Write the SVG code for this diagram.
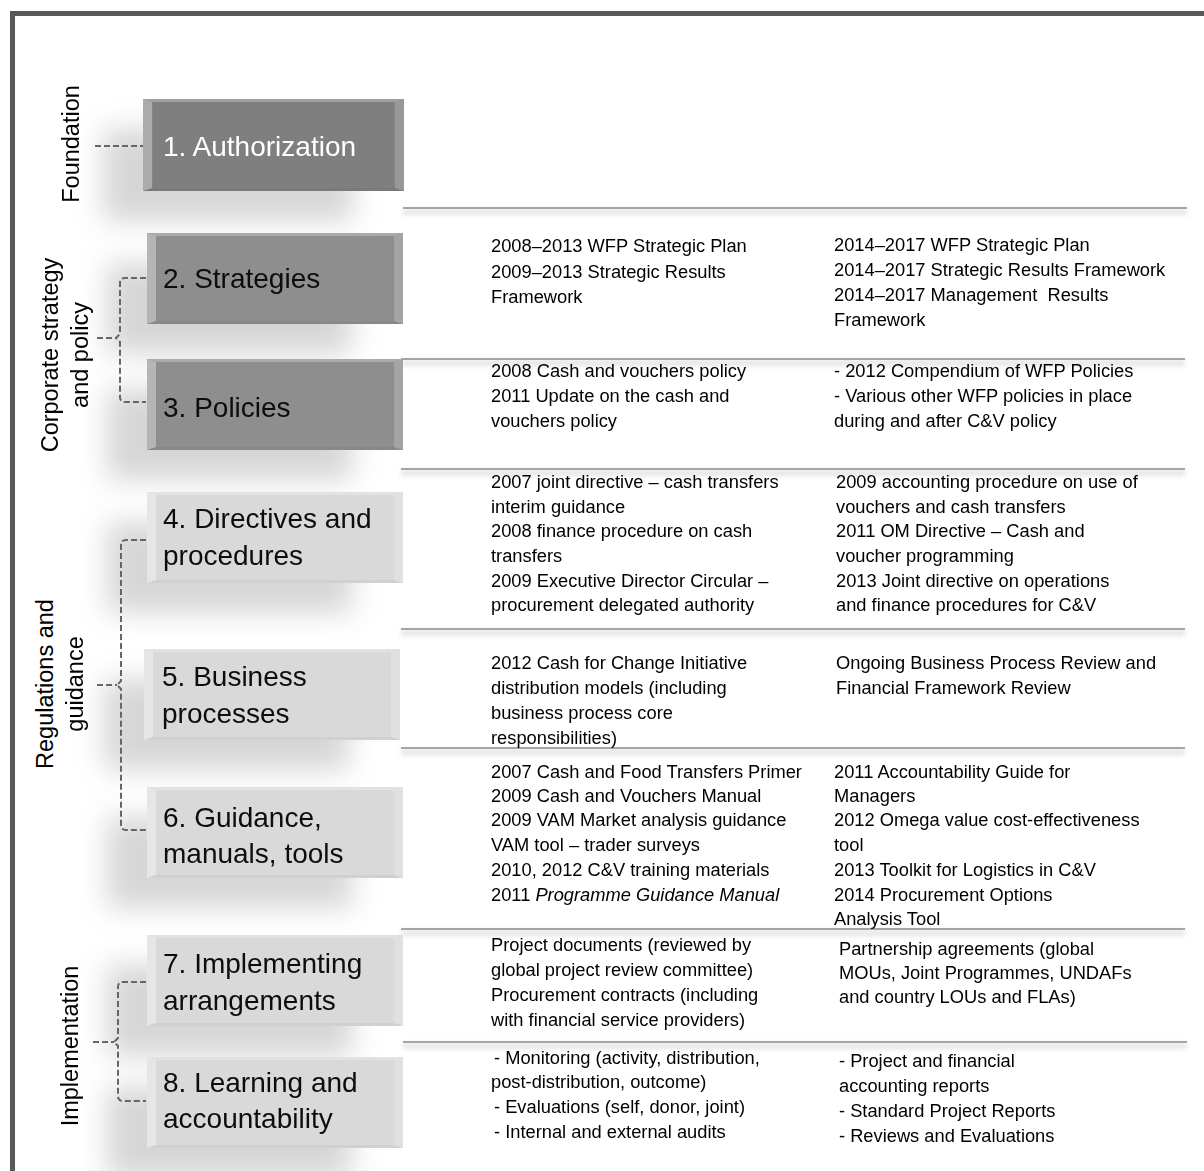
<svg xmlns="http://www.w3.org/2000/svg" xmlns:xlink="http://www.w3.org/1999/xlink" width="1204" height="1171" viewBox="0 0 1204 1171">
<style>
.frame{fill:none;stroke:#595959;stroke-width:5}
.dark{fill:#7f7f7f}
.mid{fill:#8e8e8e}
.light{fill:#d9d9d9}
.lbl{font-family:"Liberation Sans",Arial,sans-serif;font-size:28px;fill:#0d0d0d}
.lblw{font-family:"Liberation Sans",Arial,sans-serif;font-size:28px;fill:#ffffff}
.side{font-family:"Liberation Sans",Arial,sans-serif;font-size:23.5px;fill:#000;text-anchor:middle}
.item{font-family:"Liberation Sans",Arial,sans-serif;font-size:18.3px;fill:#000}
.sep{stroke:#8a8a8a;stroke-width:1.5;fill:none}
.sepsh{stroke:#000;stroke-opacity:0.12;stroke-width:5;fill:none}
.dash{fill:none;stroke:#666;stroke-width:2;stroke-dasharray:6 3}
.shadow{fill:#000;opacity:0.16}
</style>
<defs>
<filter id="blur" x="-50%" y="-50%" width="200%" height="200%"><feGaussianBlur stdDeviation="14"/></filter>
<filter id="lblur" x="-10%" y="-300%" width="120%" height="700%"><feGaussianBlur stdDeviation="2.5"/></filter>
<g id="bev">
<polygon points="0,0 256,0 247,3 9,3" fill="#fff" opacity="0.25"/>
<polygon points="0,0 9,3 9,88 0,91" fill="#fff" opacity="0.35"/>
<polygon points="256,0 256,91 247,88 247,3" fill="#fff" opacity="0.2"/>
<polygon points="0,91 9,88 247,88 256,91" fill="#000" opacity="0.04"/>
</g>
</defs>
<rect width="1204" height="1171" fill="#fff"/>
<path class="frame" d="M12.5,1175 V13.5 H1210"/>

<g id="shadows" filter="url(#blur)">
<rect class="shadow" x="103" y="129" width="250" height="92"/>
<rect class="shadow" x="107" y="263" width="245" height="91"/>
<rect class="shadow" x="107" y="389" width="245" height="91"/>
<rect class="shadow" x="107" y="522" width="245" height="91"/>
<rect class="shadow" x="104" y="679" width="245" height="91"/>
<rect class="shadow" x="107" y="817" width="245" height="91"/>
<rect class="shadow" x="107" y="965" width="245" height="91"/>
<rect class="shadow" x="107" y="1087" width="245" height="91"/>
</g>

<g id="separators">
<g filter="url(#lblur)">
<line class="sepsh" x1="403" y1="212" x2="1187" y2="212"/>
<line class="sepsh" x1="401" y1="363" x2="1185" y2="363"/>
<line class="sepsh" x1="401" y1="473" x2="1185" y2="473"/>
<line class="sepsh" x1="401" y1="633" x2="1185" y2="633"/>
<line class="sepsh" x1="401" y1="752" x2="1185" y2="752"/>
<line class="sepsh" x1="401" y1="933" x2="1185" y2="933"/>
<line class="sepsh" x1="403" y1="1046" x2="1187" y2="1046"/>
</g>
<line class="sep" x1="403" y1="208" x2="1187" y2="208"/>
<line class="sep" x1="401" y1="359" x2="1185" y2="359"/>
<line class="sep" x1="401" y1="469" x2="1185" y2="469"/>
<line class="sep" x1="401" y1="629" x2="1185" y2="629"/>
<line class="sep" x1="401" y1="748" x2="1185" y2="748"/>
<line class="sep" x1="401" y1="929" x2="1185" y2="929"/>
<line class="sep" x1="403" y1="1042" x2="1187" y2="1042"/>
</g>

<g id="connectors">
<path class="dash" d="M95,146 H143"/>
<path class="dash" d="M146,278 H125 Q120,278 120,283 V334 L116,338 L120,342 V397 Q120,402 125,402 H146"/>
<path class="dash" d="M97,338 H116"/>
<path class="dash" d="M146,540 H126 Q121,540 121,545 V681 L117,685 L121,689 V825 Q121,830 126,830 H146"/>
<path class="dash" d="M97,685 H117"/>
<path class="dash" d="M146,982 H123 Q118,982 118,987 V1038 L114,1042 L118,1046 V1096 Q118,1101 123,1101 H146"/>
<path class="dash" d="M93,1042 H114"/>
</g>

<g id="group-labels">
<text class="side" transform="translate(79,144) rotate(-90)">Foundation</text>
<text class="side" transform="translate(58,355) rotate(-90)">Corporate strategy</text>
<text class="side" transform="translate(88,355) rotate(-90)">and policy</text>
<text class="side" transform="translate(53,684) rotate(-90)">Regulations and</text>
<text class="side" transform="translate(83,684) rotate(-90)">guidance</text>
<text class="side" transform="translate(78,1046) rotate(-90)">Implementation</text>
</g>

<g id="node1">
<rect class="dark" x="143" y="99" width="261" height="92"/>
<use xlink:href="#bev" transform="translate(143,99) scale(1.0195,1.011)"/>
<text class="lblw" x="163" y="156">1. Authorization</text>
</g>
<g id="node2">
<rect class="mid" x="147" y="233" width="256" height="91"/>
<use xlink:href="#bev" x="147" y="233"/>
<text class="lbl" x="163" y="288">2. Strategies</text>
</g>
<g id="node3">
<rect class="mid" x="147" y="359" width="256" height="91"/>
<use xlink:href="#bev" x="147" y="359"/>
<text class="lbl" x="163" y="417">3. Policies</text>
</g>
<g id="node4">
<rect class="light" x="147" y="492" width="256" height="91"/>
<use xlink:href="#bev" x="147" y="492"/>
<text class="lbl" x="163" y="528">4. Directives and</text>
<text class="lbl" x="163" y="565">procedures</text>
</g>
<g id="node5">
<rect class="light" x="144" y="649" width="256" height="91"/>
<use xlink:href="#bev" x="144" y="649"/>
<text class="lbl" x="162" y="686">5. Business</text>
<text class="lbl" x="162" y="723">processes</text>
</g>
<g id="node6">
<rect class="light" x="147" y="787" width="256" height="91"/>
<use xlink:href="#bev" x="147" y="787"/>
<text class="lbl" x="163" y="827">6. Guidance,</text>
<text class="lbl" x="163" y="863">manuals, tools</text>
</g>
<g id="node7">
<rect class="light" x="147" y="935" width="256" height="91"/>
<use xlink:href="#bev" x="147" y="935"/>
<text class="lbl" x="163" y="973">7. Implementing</text>
<text class="lbl" x="163" y="1010">arrangements</text>
</g>
<g id="node8">
<rect class="light" x="147" y="1057" width="256" height="91"/>
<use xlink:href="#bev" x="147" y="1057"/>
<text class="lbl" x="163" y="1092">8. Learning and</text>
<text class="lbl" x="163" y="1128">accountability</text>
</g>

<g id="row2">
<text class="item" x="491" y="252">2008–2013 WFP Strategic Plan</text>
<text class="item" x="491" y="278">2009–2013 Strategic Results</text>
<text class="item" x="491" y="303">Framework</text>
<text class="item" x="834" y="251">2014–2017 WFP Strategic Plan</text>
<text class="item" x="834" y="276">2014–2017 Strategic Results Framework</text>
<text class="item" x="834" y="301" xml:space="preserve">2014–2017 Management  Results</text>
<text class="item" x="834" y="326">Framework</text>
</g>
<g id="row3">
<text class="item" x="491" y="377">2008 Cash and vouchers policy</text>
<text class="item" x="491" y="402">2011 Update on the cash and</text>
<text class="item" x="491" y="427">vouchers policy</text>
<text class="item" x="834" y="377">- 2012 Compendium of WFP Policies</text>
<text class="item" x="834" y="402">- Various other WFP policies in place</text>
<text class="item" x="834" y="427">during and after C&amp;V policy</text>
</g>
<g id="row4">
<text class="item" x="491" y="488">2007 joint directive – cash transfers</text>
<text class="item" x="491" y="513">interim guidance</text>
<text class="item" x="491" y="537">2008 finance procedure on cash</text>
<text class="item" x="491" y="562">transfers</text>
<text class="item" x="491" y="587">2009 Executive Director Circular –</text>
<text class="item" x="491" y="611">procurement delegated authority</text>
<text class="item" x="836" y="488">2009 accounting procedure on use of</text>
<text class="item" x="836" y="513">vouchers and cash transfers</text>
<text class="item" x="836" y="537">2011 OM Directive – Cash and</text>
<text class="item" x="836" y="562">voucher programming</text>
<text class="item" x="836" y="587">2013 Joint directive on operations</text>
<text class="item" x="836" y="611">and finance procedures for C&amp;V</text>
</g>
<g id="row5">
<text class="item" x="491" y="669">2012 Cash for Change Initiative</text>
<text class="item" x="491" y="694">distribution models (including</text>
<text class="item" x="491" y="719">business process core</text>
<text class="item" x="491" y="744">responsibilities)</text>
<text class="item" x="836" y="669">Ongoing Business Process Review and</text>
<text class="item" x="836" y="694">Financial Framework Review</text>
</g>
<g id="row6">
<text class="item" x="491" y="778">2007 Cash and Food Transfers Primer</text>
<text class="item" x="491" y="802">2009 Cash and Vouchers Manual</text>
<text class="item" x="491" y="826">2009 VAM Market analysis guidance</text>
<text class="item" x="491" y="851">VAM tool – trader surveys</text>
<text class="item" x="491" y="876">2010, 2012 C&amp;V training materials</text>
<text class="item" x="491" y="901">2011 <tspan font-style="italic">Programme Guidance Manual</tspan></text>
<text class="item" x="834" y="778">2011 Accountability Guide for</text>
<text class="item" x="834" y="802">Managers</text>
<text class="item" x="834" y="826">2012 Omega value cost-effectiveness</text>
<text class="item" x="834" y="851">tool</text>
<text class="item" x="834" y="876">2013 Toolkit for Logistics in C&amp;V</text>
<text class="item" x="834" y="901">2014 Procurement Options</text>
<text class="item" x="834" y="925">Analysis Tool</text>
</g>
<g id="row7">
<text class="item" x="491" y="951">Project documents (reviewed by</text>
<text class="item" x="491" y="976">global project review committee)</text>
<text class="item" x="491" y="1001">Procurement contracts (including</text>
<text class="item" x="491" y="1026">with financial service providers)</text>
<text class="item" x="839" y="955">Partnership agreements (global</text>
<text class="item" x="839" y="979">MOUs, Joint Programmes, UNDAFs</text>
<text class="item" x="839" y="1003">and country LOUs and FLAs)</text>
</g>
<g id="row8">
<text class="item" x="494" y="1064">- Monitoring (activity, distribution,</text>
<text class="item" x="491" y="1088">post-distribution, outcome)</text>
<text class="item" x="494" y="1113">- Evaluations (self, donor, joint)</text>
<text class="item" x="494" y="1138">- Internal and external audits</text>
<text class="item" x="839" y="1067">- Project and financial</text>
<text class="item" x="839" y="1092">accounting reports</text>
<text class="item" x="839" y="1117">- Standard Project Reports</text>
<text class="item" x="839" y="1142">- Reviews and Evaluations</text>
</g>
</svg>
